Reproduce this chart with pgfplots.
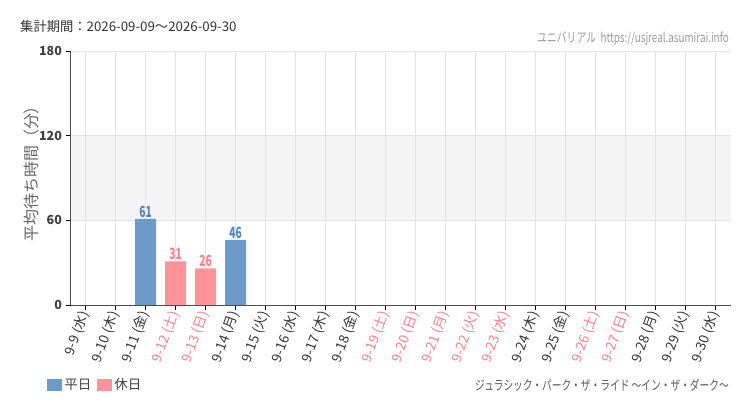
\documentclass[border=0pt]{standalone}
\usepackage{pgfplots}
\pgfplotsset{compat=1.18}
\usepackage{fontspec}
\setmainfont{Noto Sans CJK JP}
\definecolor{wkday}{HTML}{6D9BC9}
\definecolor{hday}{HTML}{FF939A}
\definecolor{wktxt}{HTML}{4F84BF}
\definecolor{htxt}{HTML}{FF7F89}
\definecolor{band}{HTML}{F4F4F4}
\definecolor{gridc}{HTML}{E4E4E4}
\definecolor{txt}{HTML}{333333}
\pgfplotsset{barlabel/.style={
  nodes near coords={\scalebox{0.66}[1]{\pgfmathprintnumber{\pgfplotspointmeta}}},
  every node near coord/.append style={font=\fontsize{15.5}{16}\selectfont\bfseries, inner sep=1.5pt, text=#1}}}
\begin{document}
\begin{tikzpicture}
\path (0pt,0pt) rectangle (750pt,410pt);
\begin{axis}[
  set layers,
  at={(70.5pt,105pt)}, anchor=south west,
  scale only axis, width=660pt, height=254pt,
  xmin=-0.5, xmax=21.5, ymin=0, ymax=180,
  axis x line=bottom, axis y line=left,
  axis line style={-, draw=black!70, line width=0.9pt},
  xtick={0,...,21}, ytick={0,60,120,180},
  xticklabels={9-9 (水),9-10 (木),9-11 (金),\textcolor{htxt}{9-12 (土)},\textcolor{htxt}{9-13 (日)},9-14 (月),9-15 (火),9-16 (水),9-17 (木),9-18 (金),\textcolor{htxt}{9-19 (土)},\textcolor{htxt}{9-20 (日)},\textcolor{htxt}{9-21 (月)},\textcolor{htxt}{9-22 (火)},\textcolor{htxt}{9-23 (水)},9-24 (木),9-25 (金),\textcolor{htxt}{9-26 (土)},\textcolor{htxt}{9-27 (日)},9-28 (月),9-29 (火),9-30 (水)},
  x tick label style={rotate=70, anchor=east, font=\fontsize{13.5}{14}\selectfont, text=txt, inner sep=2pt},
  y tick label style={font=\fontsize{12.5}{13}\selectfont\bfseries, text=black!75},
  /pgf/number format/assume math mode=true,
  tick align=outside, major tick length=5pt,
  tick style={draw=black, line width=0.9pt},
  grid=major, major grid style={draw=gridc, line width=0.7pt},
  legend style={at={(-0.040,-0.315)}, anchor=west, draw=none, fill=none,
    font=\fontsize{13.5}{14}\selectfont, text=black!75, legend columns=2,
    /tikz/every even column/.append style={column sep=4pt}},
]
\addplot[sharp plot, draw=none, fill=band, forget plot, on layer=axis background]
  coordinates {(-0.5,60) (21.5,60) (21.5,120) (-0.5,120)} -- cycle;
\addplot[ybar, bar width=21pt, fill=wkday, draw=none, bar shift=0pt, barlabel=wktxt,
  legend image code/.code={\fill[wkday] (0pt,-6pt) rectangle (15pt,6pt);}]
  coordinates {(2,61) (5,46)};
\addlegendentry{平日}
\addplot[ybar, bar width=21pt, fill=hday, draw=none, bar shift=0pt, barlabel=htxt,
  legend image code/.code={\fill[hday] (0pt,-6pt) rectangle (15pt,6pt);}]
  coordinates {(3,31) (4,26)};
\addlegendentry{休日}
\end{axis}
\node[anchor=west, text=txt, font=\fontsize{13.3}{15}\selectfont, inner sep=0pt] at (20pt,384pt) {集計期間：2026-09-09～2026-09-30};
\node[anchor=east, text=black!40, font=\fontsize{13}{14}\selectfont, xscale=0.76, inner sep=0pt] at (729pt,371pt) {ユニバリアル\ \ https://usjreal.asumirai.info};
\node[anchor=east, text=black!65, font=\fontsize{13.5}{14}\selectfont, xscale=0.72, inner sep=0pt] at (729pt,25pt) {ジュラシック・パーク・ザ・ライド ～イン・ザ・ダーク～};
\node[rotate=90, text=black!60, font=\fontsize{16}{17}\selectfont] at (31pt,240pt) {平均待ち時間（分）};
\end{tikzpicture}
\end{document}
